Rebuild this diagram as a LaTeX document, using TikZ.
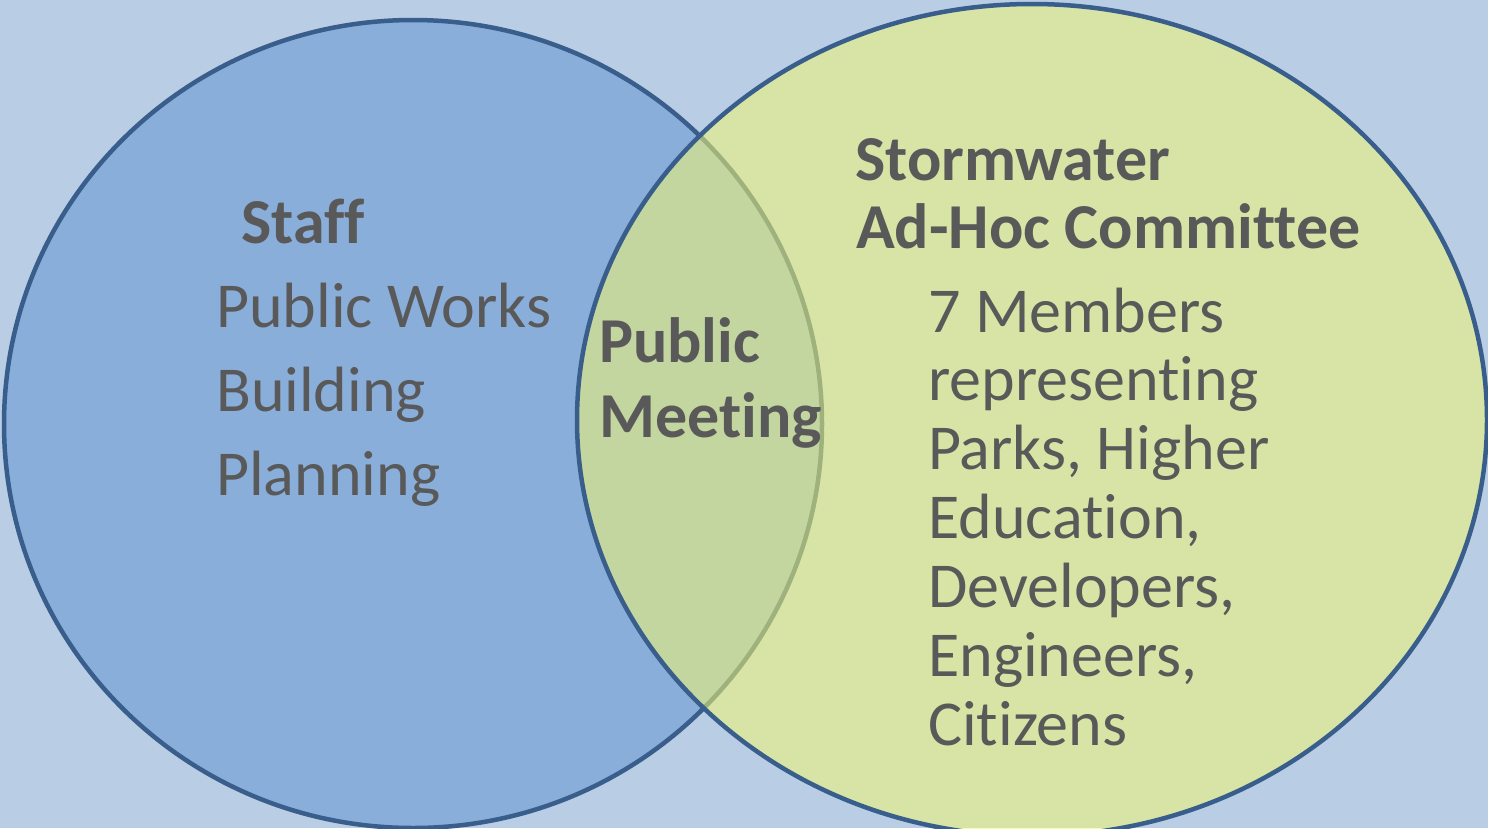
\documentclass[tikz,border=0pt]{standalone}
\usepackage{fontspec}
\setmainfont[Ligatures={NoCommon}]{Carlito}
\begin{document}
\definecolor{bgblue}{HTML}{B9CDE5}
\definecolor{staffblue}{HTML}{8AAEDA}
\definecolor{rimblue}{HTML}{395E8C}
\definecolor{committeelime}{RGB}{243,247,113}
\definecolor{labelgray}{HTML}{595959}
\begin{tikzpicture}[x=1pt,y=-1pt,
  rim/.style={draw=rimblue,line width=4.5pt},
  label/.style={anchor=base west,inner sep=0pt,text=labelgray,font=\fontsize{64}{76}\selectfont},
  heading/.style={label,font=\fontsize{64}{76}\selectfont\bfseries}]
  % canvas
  \fill[bgblue] (0,0) rectangle (1488,828);
  \useasboundingbox (0,0) rectangle (1488,828);
  \clip (0,0) rectangle (1488,828);
  % the two sets
  \path[rim,fill=staffblue] (413,424) ellipse [x radius=409,y radius=404];
  \path[rim,fill=committeelime,fill opacity=0.55] (1032,420) ellipse [x radius=455,y radius=416];
  % staff set
  \node[heading] (staff) at (241,243) {Staff};
  \node[label] (works) at (216,327) {Public Works};
  \node[label] (building) at (216,411) {Building};
  \node[label] (planning) at (216,495) {Planning};
  % overlap
  \node[heading] (public) at (599,362) {Public};
  \node[heading] (meeting) at (599,437) {Meeting};
  % committee set
  \node[heading] (storm) at (855,180) {Stormwater};
  \node[heading] (adhoc) at (856,248) {Ad-Hoc Committee};
  \node[label] (m1) at (928,332) {7 Members};
  \node[label] (m2) at (928,400) {representing};
  \node[label] (m3) at (928,469) {Parks, Higher};
  \node[label] (m4) at (928,538) {Education,};
  \node[label] (m5) at (928,607) {Developers,};
  \node[label] (m6) at (928,676) {Engineers,};
  \node[label] (m7) at (928,745) {Citizens};
\end{tikzpicture}
\end{document}
